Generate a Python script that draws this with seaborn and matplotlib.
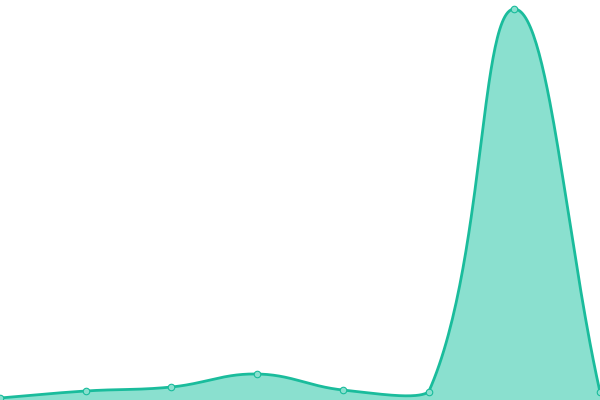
import numpy as np
import pandas as pd
import seaborn as sns
import matplotlib.pyplot as plt

# valores
labels = ['p0', 'p1', 'p2', 'p3', 'p4', 'p5', 'p6', 'p7']
values = [2, 9, 13, 26, 10, 8, 391, 8]

line_color = '#1abc9c'
fill_color = '#8ae0cf'

df = pd.DataFrame({'x': np.arange(len(values)), 'y': values})

sns.set_style('white')
fig = plt.figure(figsize=(6, 4), dpi=100)
ax = fig.add_axes([0, 0, 1, 1])
ax.set_xlim(0, len(values) - 1)
ax.set_ylim(0, 400)

# curva suavizada tipo spline (tension 0.4), puntos de control limitados al area
sx = 600 / (len(values) - 1)
px = df['x'].values * sx
py = df['y'].values.astype(float)
t = 0.4
n = len(px)
cp_prev = np.zeros((n, 2))
cp_next = np.zeros((n, 2))
for i in range(n):
    cur = np.array([px[i], py[i]])
    prev = np.array([px[i - 1], py[i - 1]]) if i > 0 else cur
    nxt = np.array([px[i + 1], py[i + 1]]) if i < n - 1 else cur
    d01 = np.hypot(*(cur - prev))
    d12 = np.hypot(*(nxt - cur))
    tot = d01 + d12
    s01 = d01 / tot if tot else 0
    s12 = d12 / tot if tot else 0
    cp_prev[i] = cur - t * s01 * (nxt - prev)
    cp_next[i] = cur + t * s12 * (nxt - prev)
for cp in (cp_prev, cp_next):
    cp[:, 0] = np.clip(cp[:, 0], 0, 600)
    cp[:, 1] = np.clip(cp[:, 1], 0, 400)

xs, ys = [], []
u = np.linspace(0, 1, 60)
for i in range(n - 1):
    p0 = np.array([px[i], py[i]])
    p3 = np.array([px[i + 1], py[i + 1]])
    p1 = cp_next[i]
    p2 = cp_prev[i + 1]
    b = ((1 - u) ** 3)[:, None] * p0 + (3 * (1 - u) ** 2 * u)[:, None] * p1 \
        + (3 * (1 - u) * u ** 2)[:, None] * p2 + (u ** 3)[:, None] * p3
    xs.extend(b[:, 0] / sx)
    ys.extend(b[:, 1])

curve = pd.DataFrame({'x': xs, 'y': ys})
ax.fill_between(curve['x'], curve['y'], 0, color=fill_color, linewidth=0)
sns.lineplot(data=curve, x='x', y='y', ax=ax, color=line_color, linewidth=2,
             sort=False, estimator=None)
sns.scatterplot(data=df, x='x', y='y', ax=ax, s=22, color=fill_color,
                edgecolor=line_color, linewidth=0.8, zorder=5, clip_on=False)

ax.set_axis_off()
fig.savefig('out.png', dpi=100)
